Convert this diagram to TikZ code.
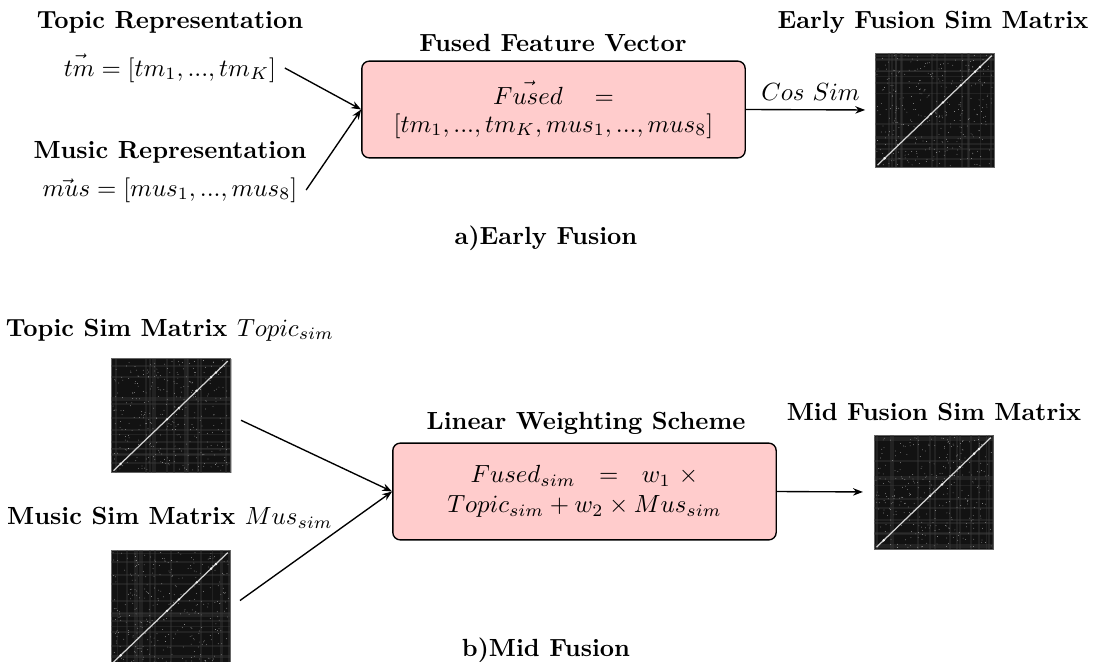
\documentclass[tikz,border=0pt]{standalone}
\usetikzlibrary{arrows.meta}
\begin{document}
\begin{tikzpicture}[x=0.403pt,y=-0.403pt,
  ttl/.style={font=\bfseries, inner sep=1pt},
  fbox/.style={draw=black, fill=red!20, rounded corners=3pt, line width=0.55pt,
    minimum width=154.5pt, minimum height=39pt, align=center},
  mat/.style={fill=black!93, draw=black!60, line width=0.3pt, minimum width=48pt, minimum height=46pt, inner sep=0pt},
  arr/.style={-{Stealth[length=4pt,width=3pt]}, line width=0.55pt}]
\useasboundingbox (0,0) rectangle (1094,661);
\clip (0,0) rectangle (1094,661);
\pgfmathsetseed{7}
\newcommand\simfill[1]{%
  \begin{scope}[shift={(#1.south west)}, x=48pt, y=46pt]
    \foreach \i in {1,...,14}{\fill[black!75, opacity=0.35] (rnd,0) rectangle ++(0.015,1);}
    \foreach \i in {1,...,14}{\fill[black!75, opacity=0.35] (0,rnd) rectangle ++(1,0.015);}
    \foreach \i in {1,...,320}{\fill[gray!45] (rnd*0.97+0.015,rnd*0.97+0.015) circle (0.15pt);}
    \draw[gray!35, line width=0.5pt] (0.02,0.02) -- (0.98,0.98);
    \foreach \t in {0.08,0.47,0.57,0.72,0.84,0.88}{\fill[gray!10] (\t,\t) circle (0.55pt);}
  \end{scope}}

% a) Early fusion
\node[ttl] (t1) at (170,22) {Topic Representation};
\node (tm) at (170,68) {$\vec{tm}=[tm_1,...,tm_K]$};
\node[ttl] (t2) at (170,152) {Music Representation};
\node (mus) at (170,190) {$\vec{mus}=[mus_1,...,mus_8]$};
\node[fbox] (fused) at (553.5,109.5) {$\vec{Fused}\quad=$\\[-1pt]$[tm_1,...,tm_K,mus_1,...,mus_8]$};
\node[ttl] (ft) at (553,43) {Fused Feature Vector};
\node[mat] (m1) at (935,110) {};
\simfill{m1}
\node[ttl] (et) at (933,22) {Early Fusion Sim Matrix};
\draw[arr] (tm.east) -- (fused.west);
\draw[arr] (mus.east) -- (fused.west);
\draw[arr, shorten >=4pt] (fused.east) -- node[above]{$Cos\ Sim$} (m1.west);
\node[ttl] (ca) at (546,238) {a)Early Fusion};

% b) Mid fusion
\node[ttl] (t3) at (170,330) {Topic Sim Matrix \mdseries$Topic_{sim}$};
\node[mat] (m2) at (171,415.5) {};
\simfill{m2}
\node[ttl] (t4) at (170,518) {Music Sim Matrix \mdseries$Mus_{sim}$};
\node[mat] (m3) at (171,607) {};
\simfill{m3}
\node[fbox] (lin) at (584.5,491.5) {$Fused_{sim}\ \ =\ \ w_1\ \times$\\$Topic_{sim}+w_2\times Mus_{sim}$};
\node[ttl] (lt) at (586,423) {Linear Weighting Scheme};
\node[mat] (m4) at (934,492) {};
\simfill{m4}
\node[ttl] (mt) at (934,412) {Mid Fusion Sim Matrix};
\draw[arr, shorten <=4.5pt] (m2.east) -- (lin.west);
\draw[arr, shorten <=4.5pt] (m3.east) -- (lin.west);
\draw[arr, shorten >=4.5pt] (lin.east) -- (m4.west);
\node[ttl] (cb) at (546,650) {b)Mid Fusion};
\end{tikzpicture}
\end{document}
